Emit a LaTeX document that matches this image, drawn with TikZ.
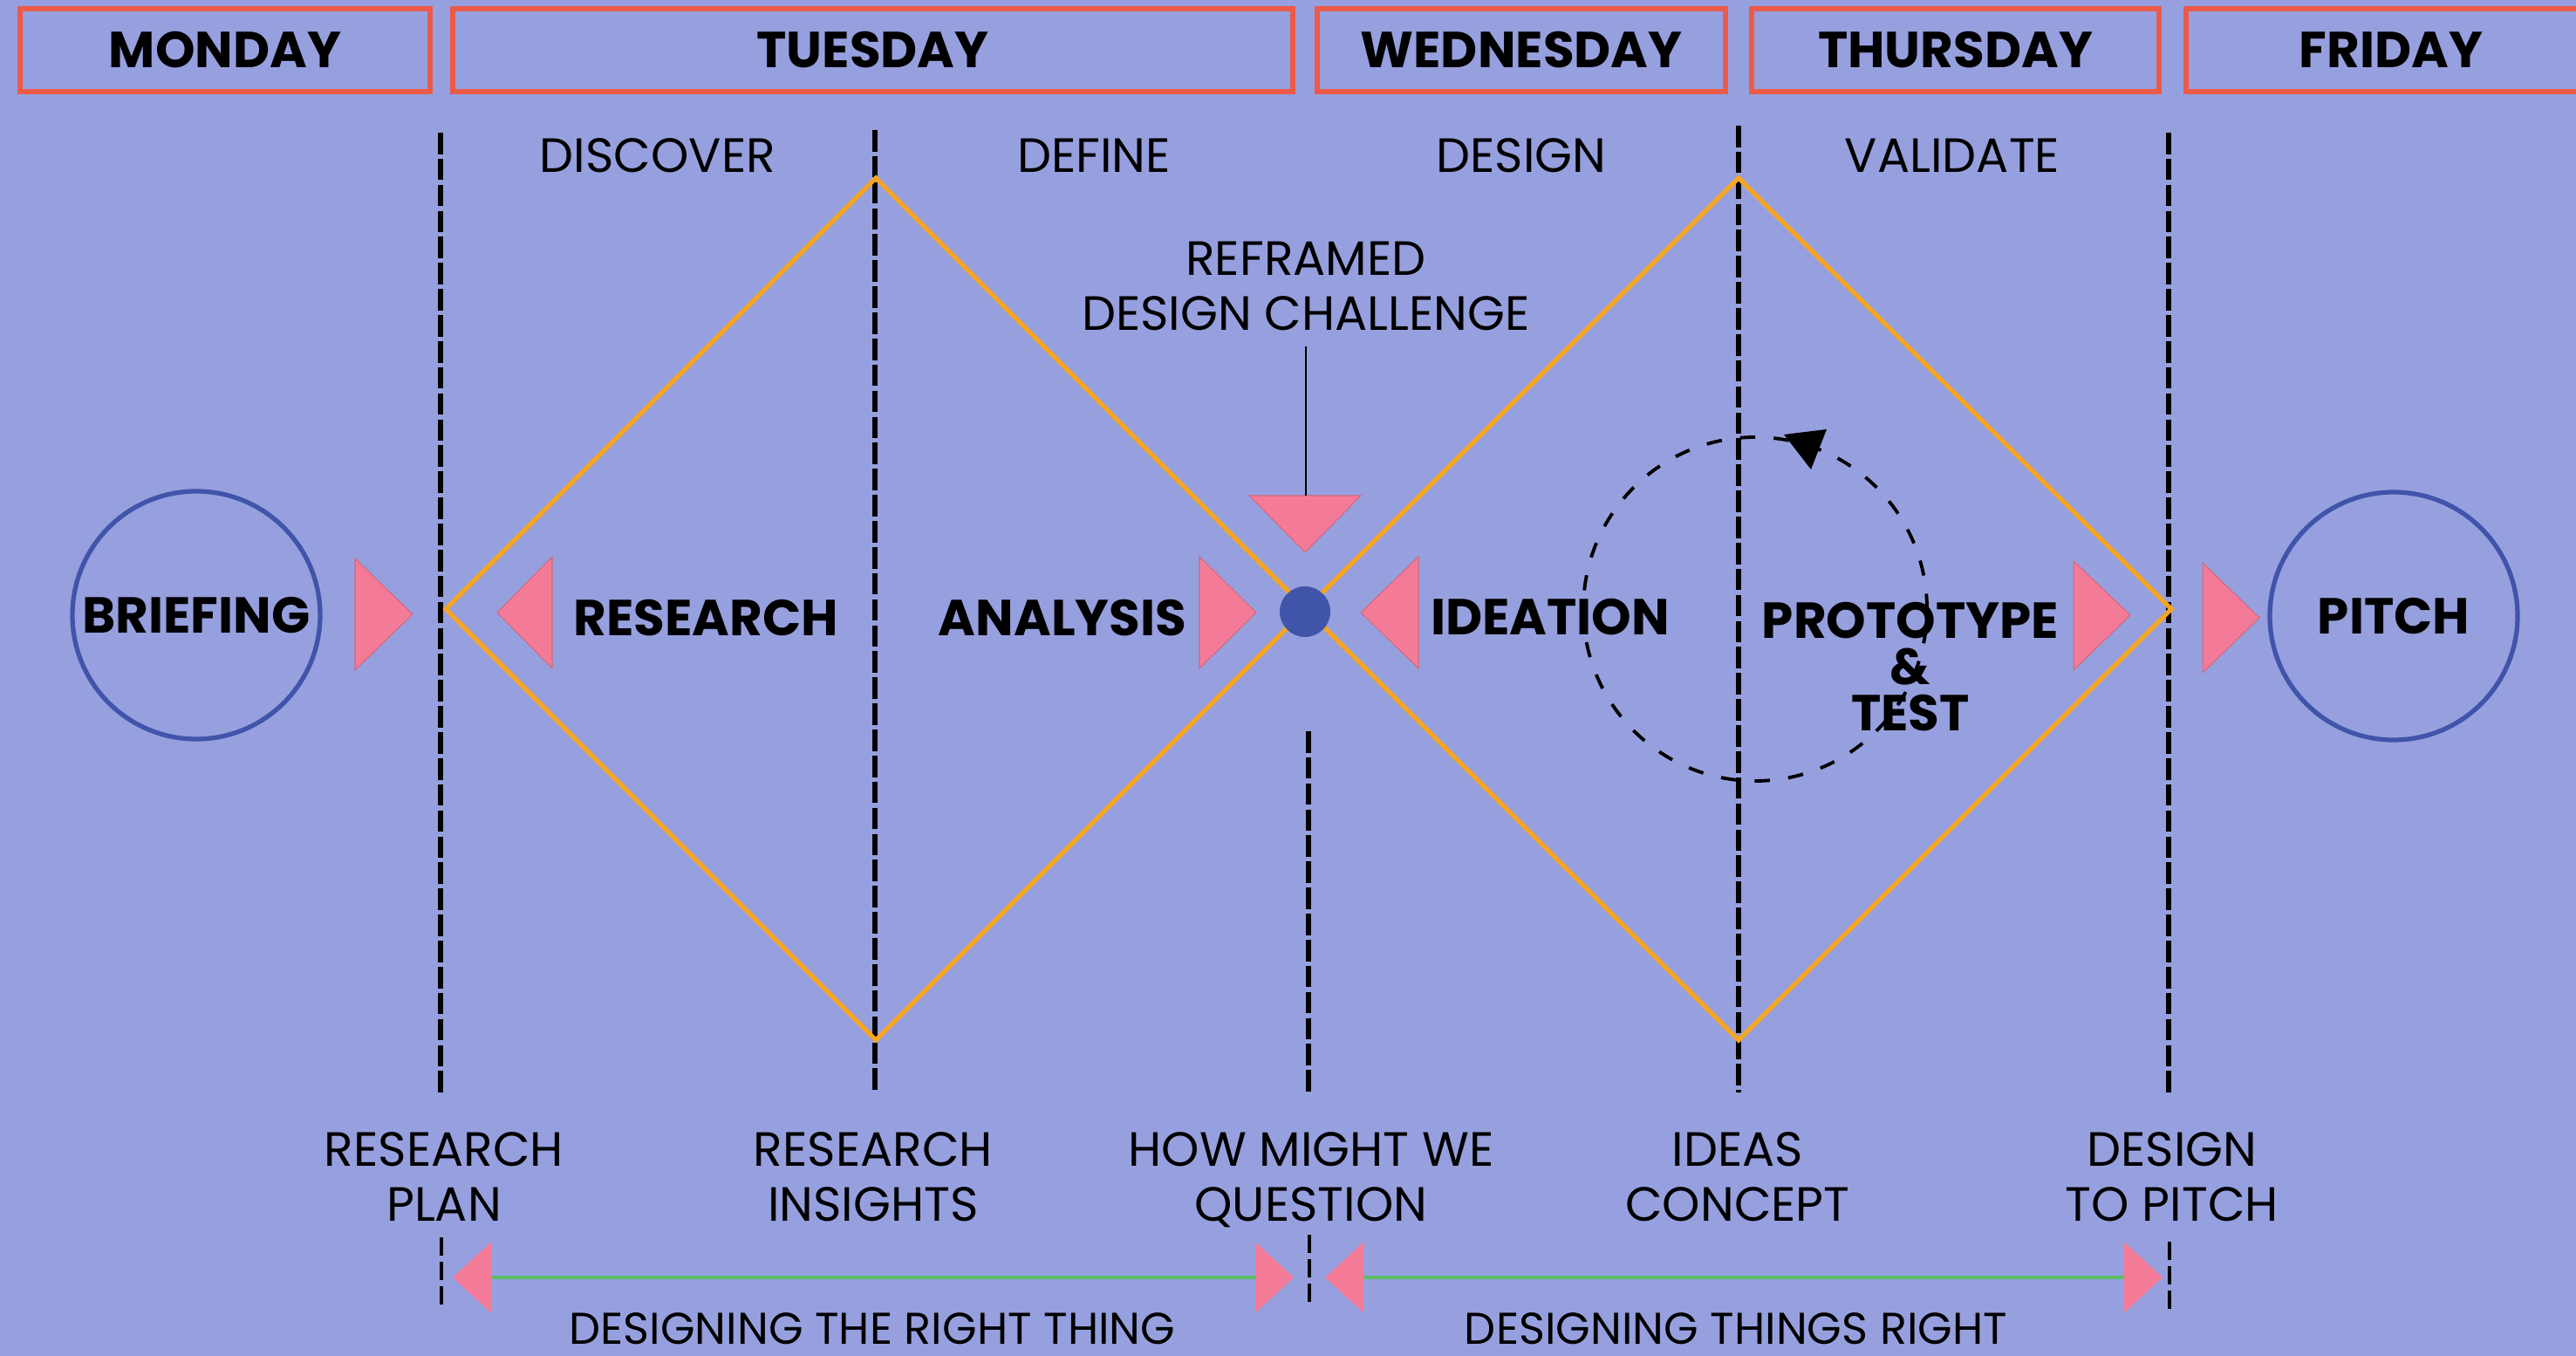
\documentclass[tikz,border=0pt]{standalone}
\usepackage{fontspec}
\setmainfont{Poppins}
\usetikzlibrary{arrows.meta}

\begin{document}
\begin{tikzpicture}[>=latex,thick,
  daybox/.style={draw=dayred,line width=1.5pt,minimum height=0.95cm,inner sep=0pt,
    font=\bfseries\fontsize{16.5}{18}\selectfont},
  phaseline/.style={line width=1.6pt,dash pattern=on 7pt off 1.5pt},
  tickline/.style={line width=1.1pt,dash pattern=on 6pt off 2pt},
  diamondline/.style={draw=diamondorange,line width=1.5pt,line join=miter},
  tri/.style={fill=tripink,draw=tripink!85!black,line width=0.3pt},
  stagelabel/.style={anchor=base,inner sep=0pt,font=\bfseries\fontsize{16.5}{15.1}\selectfont},
  stagecircle/.style={circle,draw=dotblue,line width=1.5pt,minimum size=2.84cm,inner sep=0pt,
    font=\bfseries\fontsize{16.5}{18}\selectfont},
  phaselabel/.style={anchor=base,inner sep=0pt,font=\fontsize{15.7}{17.9}\selectfont},
  notelabel/.style={anchor=north,align=center,inner sep=0pt,font=\fontsize{15.7}{17.9}\selectfont},
  twoway/.style={draw=arrowgreen,line width=1.3pt,
    {Triangle[length=0.44cm,width=0.80cm,color=tripink]}-{Triangle[length=0.44cm,width=0.80cm,color=tripink]}},
  loopline/.style={line width=1.1pt,dash pattern=on 5pt off 6pt}]
\definecolor{bgblue}{RGB}{151,160,222}
\definecolor{dayred}{RGB}{236,90,72}
\definecolor{diamondorange}{RGB}{245,165,36}
\definecolor{tripink}{RGB}{244,123,151}
\definecolor{dotblue}{RGB}{64,84,170}
\definecolor{arrowgreen}{RGB}{92,190,100}
\useasboundingbox (0,0) rectangle (29.53,-15.54);
\fill[bgblue] (0,0) rectangle (29.53,-15.54);
% days
\node[daybox,minimum width=4.70cm] (mon) at (2.58,-0.575) {MONDAY};
\node[daybox,minimum width=9.63cm] (tue) at (10.005,-0.575) {TUESDAY};
\node[daybox,minimum width=4.68cm] (wed) at (17.44,-0.575) {WEDNESDAY};
\node[daybox,minimum width=4.67cm] (thu) at (22.415,-0.575) {THURSDAY};
\node[daybox,minimum width=4.70cm] (fri) at (27.41,-0.575) {FRIDAY};
% phases
\node[phaselabel] (discover) at (7.54,-1.98) {DISCOVER};
\node[phaselabel] (define) at (12.54,-1.98) {DEFINE};
\node[phaselabel] (design) at (17.44,-1.98) {DESIGN};
\node[phaselabel] (validate) at (22.38,-1.98) {VALIDATE};
\draw[phaseline] (5.05,-1.52) -- (5.05,-12.52);
\draw[phaseline] (10.03,-1.49) -- (10.03,-12.52);
\draw[phaseline] (15.00,-8.38) -- (15.00,-12.52);
\draw[phaseline] (19.93,-1.44) -- (19.93,-12.52);
\draw[phaseline] (24.86,-1.52) -- (24.86,-12.52);
% double diamond
\draw[diamondline] (5.11,-6.98) -- (10.04,-2.04) -- (14.97,-6.98) -- (10.04,-11.92) -- cycle;
\draw[diamondline] (14.97,-6.98) -- (19.93,-2.04) -- (24.89,-6.98) -- (19.93,-11.92) -- cycle;
\node[circle,fill=dotblue,minimum size=0.58cm,inner sep=0pt] (hub) at (14.96,-7.01) {};
% stages
\node[stagecircle] (brief) at (2.25,-7.05) {BRIEFING};
\node[stagecircle] (pitch) at (27.44,-7.06) {PITCH};
\node[stagelabel] (research) at (8.09,-7.29) {RESEARCH};
\node[stagelabel] (analysis) at (12.18,-7.29) {ANALYSIS};
\node[stagelabel] (ideation) at (17.77,-7.28) {IDEATION};
\node[stagelabel,anchor=center,align=center] (proto) at (21.90,-7.64) {PROTOTYPE\\\&\\TEST};
\fill[tri] (4.07,-6.40) -- (4.73,-7.04) -- (4.07,-7.68) -- cycle;
\fill[tri] (6.33,-6.38) -- (5.70,-7.02) -- (6.33,-7.66) -- cycle;
\fill[tri] (13.75,-6.38) -- (14.40,-7.02) -- (13.75,-7.66) -- cycle;
\fill[tri] (14.32,-5.68) -- (14.96,-6.33) -- (15.60,-5.68) -- cycle;
\fill[tri] (16.26,-6.38) -- (15.60,-7.02) -- (16.26,-7.66) -- cycle;
\fill[tri] (23.77,-6.43) -- (24.42,-7.05) -- (23.77,-7.68) -- cycle;
\fill[tri] (25.25,-6.45) -- (25.90,-7.08) -- (25.25,-7.71) -- cycle;
% reframed challenge
\node[notelabel] (reframe) at (14.97,-2.76) {REFRAMED\\DESIGN CHALLENGE};
\coordinate (refend) at (14.97,-5.68);
\draw[line width=0.6pt,shorten <=4.8pt] (reframe.south) -- (refend);
% prototype loop
\draw[loopline] (20.12,-6.98) circle (1.97);
\fill (20.45,-4.98) -- (20.94,-4.92) -- (20.76,-5.38) -- cycle;
% outcomes
\node[notelabel] (plan) at (5.09,-12.96) {RESEARCH\\PLAN};
\node[notelabel] (insights) at (10.01,-12.96) {RESEARCH\\INSIGHTS};
\node[notelabel] (hmw) at (15.03,-12.96) {HOW MIGHT WE\\QUESTION};
\node[notelabel] (ideas) at (19.92,-12.96) {IDEAS\\CONCEPT};
\node[notelabel] (topitch) at (24.90,-12.96) {DESIGN\\TO PITCH};
\draw[tickline] (5.06,-14.18) -- (5.06,-15.02);
\draw[tickline] (15.01,-14.15) -- (15.01,-14.98);
\draw[tickline] (24.87,-14.23) -- (24.87,-15.07);
\coordinate (rtl) at (5.19,-14.64);
\coordinate (rtr) at (14.83,-14.64);
\coordinate (trl) at (15.19,-14.64);
\coordinate (trr) at (24.79,-14.64);
\draw[twoway] (rtl) -- (rtr);
\draw[twoway] (trl) -- (trr);
\node[phaselabel,font=\fontsize{14.5}{16}\selectfont] (rightthing) at (10.00,-15.40) {DESIGNING THE RIGHT THING};
\node[phaselabel,font=\fontsize{14.5}{16}\selectfont] (thingsright) at (19.90,-15.40) {DESIGNING THINGS RIGHT};
\end{tikzpicture}
\end{document}
